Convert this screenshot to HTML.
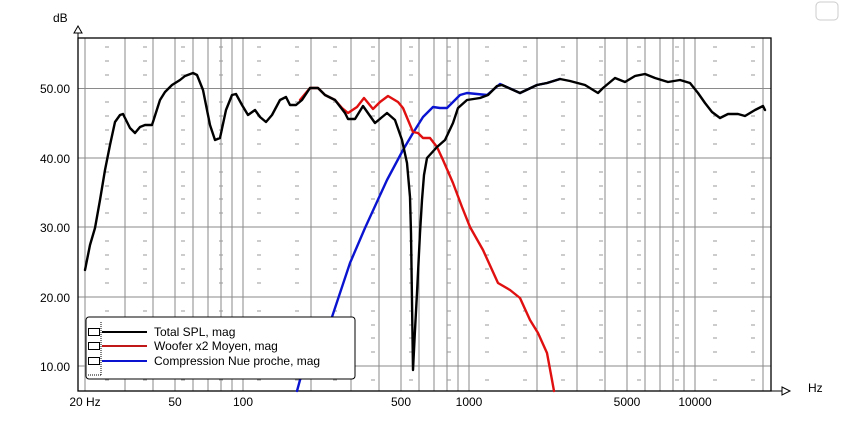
<!DOCTYPE html>
<html><head><meta charset="utf-8"><style>
html,body{margin:0;padding:0;background:#fff;}
svg{display:block;font-family:"Liberation Sans",sans-serif;}
</style></head><body>
<svg width="843" height="431" viewBox="0 0 843 431" xmlns="http://www.w3.org/2000/svg">
<rect x="816" y="2" width="22" height="18" rx="4" fill="none" stroke="#ccc"/>
<g stroke="#8a8a8a" stroke-width="1">
<line x1="85" y1="38" x2="85" y2="391"/>
<line x1="125" y1="38" x2="125" y2="391"/>
<line x1="153" y1="38" x2="153" y2="391"/>
<line x1="175" y1="38" x2="175" y2="391"/>
<line x1="193" y1="38" x2="193" y2="391"/>
<line x1="208" y1="38" x2="208" y2="391"/>
<line x1="221" y1="38" x2="221" y2="391"/>
<line x1="232" y1="38" x2="232" y2="391"/>
<line x1="243" y1="38" x2="243" y2="391"/>
<line x1="311" y1="38" x2="311" y2="391"/>
<line x1="351" y1="38" x2="351" y2="391"/>
<line x1="379" y1="38" x2="379" y2="391"/>
<line x1="401" y1="38" x2="401" y2="391"/>
<line x1="419" y1="38" x2="419" y2="391"/>
<line x1="434" y1="38" x2="434" y2="391"/>
<line x1="447" y1="38" x2="447" y2="391"/>
<line x1="458" y1="38" x2="458" y2="391"/>
<line x1="469" y1="38" x2="469" y2="391"/>
<line x1="537" y1="38" x2="537" y2="391"/>
<line x1="577" y1="38" x2="577" y2="391"/>
<line x1="605" y1="38" x2="605" y2="391"/>
<line x1="627" y1="38" x2="627" y2="391"/>
<line x1="645" y1="38" x2="645" y2="391"/>
<line x1="660" y1="38" x2="660" y2="391"/>
<line x1="673" y1="38" x2="673" y2="391"/>
<line x1="684" y1="38" x2="684" y2="391"/>
<line x1="695" y1="38" x2="695" y2="391"/>
<line x1="763" y1="38" x2="763" y2="391"/>
<line x1="78" y1="88.5" x2="771" y2="88.5"/>
<line x1="78" y1="158" x2="771" y2="158"/>
<line x1="78" y1="227" x2="771" y2="227"/>
<line x1="78" y1="297" x2="771" y2="297"/>
<line x1="78" y1="366" x2="771" y2="366"/>
</g>
<g stroke="#999" stroke-width="1" stroke-dasharray="4 34">
<line x1="105" y1="47" x2="771" y2="47"/>
<line x1="105" y1="61" x2="771" y2="61"/>
<line x1="105" y1="75" x2="771" y2="75"/>
<line x1="105" y1="102" x2="771" y2="102"/>
<line x1="105" y1="116" x2="771" y2="116"/>
<line x1="105" y1="130" x2="771" y2="130"/>
<line x1="105" y1="144" x2="771" y2="144"/>
<line x1="105" y1="172" x2="771" y2="172"/>
<line x1="105" y1="186" x2="771" y2="186"/>
<line x1="105" y1="199" x2="771" y2="199"/>
<line x1="105" y1="213" x2="771" y2="213"/>
<line x1="105" y1="241" x2="771" y2="241"/>
<line x1="105" y1="255" x2="771" y2="255"/>
<line x1="105" y1="269" x2="771" y2="269"/>
<line x1="105" y1="283" x2="771" y2="283"/>
<line x1="105" y1="311" x2="771" y2="311"/>
<line x1="105" y1="325" x2="771" y2="325"/>
<line x1="105" y1="338" x2="771" y2="338"/>
<line x1="105" y1="352" x2="771" y2="352"/>
<line x1="105" y1="380" x2="771" y2="380"/>
</g>
<rect x="78" y="38" width="693" height="353" fill="none" stroke="#000" stroke-width="1.3"/>
<line x1="78" y1="38" x2="78" y2="30" stroke="#000"/>
<path d="M74,33 L78,26 L82,33 Z" fill="#fff" stroke="#000"/>
<line x1="771" y1="391" x2="782" y2="391" stroke="#000"/>
<path d="M782,387 L790,391 L782,395 Z" fill="#fff" stroke="#000"/>
<text x="53" y="22" font-size="12">dB</text>
<text x="808" y="392" font-size="12">Hz</text>
<g font-size="12" text-anchor="end">
<text x="70" y="93">50.00</text>
<text x="70" y="163">40.00</text>
<text x="70" y="232">30.00</text>
<text x="70" y="302">20.00</text>
<text x="70" y="371">10.00</text>
</g>
<g font-size="12" text-anchor="middle">
<text x="85" y="406">20 Hz</text>
<text x="175" y="406">50</text>
<text x="243" y="406">100</text>
<text x="401" y="406">500</text>
<text x="469" y="406">1000</text>
<text x="627" y="406">5000</text>
<text x="695" y="406">10000</text>
</g>
<g fill="none" stroke-width="2.4" stroke-linejoin="round" stroke-linecap="round">
<polyline stroke="#0a14d0" points="297,391 300,380 315,350 332,317 350,263 365,228 387,180 403,150 413,133 423,117 433,107 440,108 447,108 460,95 467,93 487,95 500,84 520,93 537,85 547,83 560,79"/>
<polyline stroke="#e01010" points="300,100 310,88 318,88 325,95 335,100 342,108 348,113 357,107 364,98 373,109 380,102 388,96 398,102 403,108 408,120 413,132 418,133 423,138 430,138 437,147 443,160 453,183 462,207 470,227 483,250 498,283 510,290 520,298 530,320 538,333 547,353 552,380 554,391"/>
<polyline stroke="#000" points="85,270 90,245 95,228 100,200 105,170 110,145 115,122 120,115 123,114 130,128 135,133 140,127 145,125 152,125 160,100 165,92 172,85 180,80 185,76 193,73 197,75 203,90 210,125 215,140 220,138 226,110 232,95 236,94 242,105 248,115 255,110 260,117 266,122 272,115 280,100 286,97 290,105 296,105 302,100 310,88 318,88 325,95 335,100 345,113 348,119 355,119 363,106 375,123 387,113 395,120 402,140 407,163 410,197 411,233 413,370 415,330 417,293 420,233 422,200 424,175 427,158 437,147 445,140 453,123 458,108 467,100 480,98 488,95 497,86 502,85 520,93 537,85 547,83 560,79 570,81 585,85 598,93 603,88 615,78 625,82 635,76 645,74 655,78 668,82 680,80 690,83 698,93 705,103 712,112 720,118 728,114 738,114 745,116 755,110 763,106 765,110"/>
</g>
<rect x="86" y="317" width="269" height="62" rx="3" fill="#fff" stroke="#000"/>
<line x1="101" y1="322" x2="101" y2="375" stroke="#000" stroke-dasharray="1 1"/>
<line x1="88" y1="375" x2="101" y2="375" stroke="#000" stroke-dasharray="1 1"/>
<rect x="88.5" y="328.5" width="11" height="7" fill="none" stroke="#000"/>
<rect x="88.5" y="342.5" width="11" height="7" fill="none" stroke="#000"/>
<rect x="88.5" y="357.5" width="11" height="7" fill="none" stroke="#000"/>
<line x1="102" y1="332" x2="147" y2="332" stroke="#000" stroke-width="2"/>
<line x1="102" y1="346" x2="147" y2="346" stroke="#c01818" stroke-width="2"/>
<line x1="102" y1="361" x2="147" y2="361" stroke="#0a14d0" stroke-width="2"/>
<g font-size="12">
<text x="154" y="336">Total SPL, mag</text>
<text x="154" y="350">Woofer x2 Moyen, mag</text>
<text x="154" y="365">Compression Nue proche, mag</text>
</g>
</svg>
</body></html>
